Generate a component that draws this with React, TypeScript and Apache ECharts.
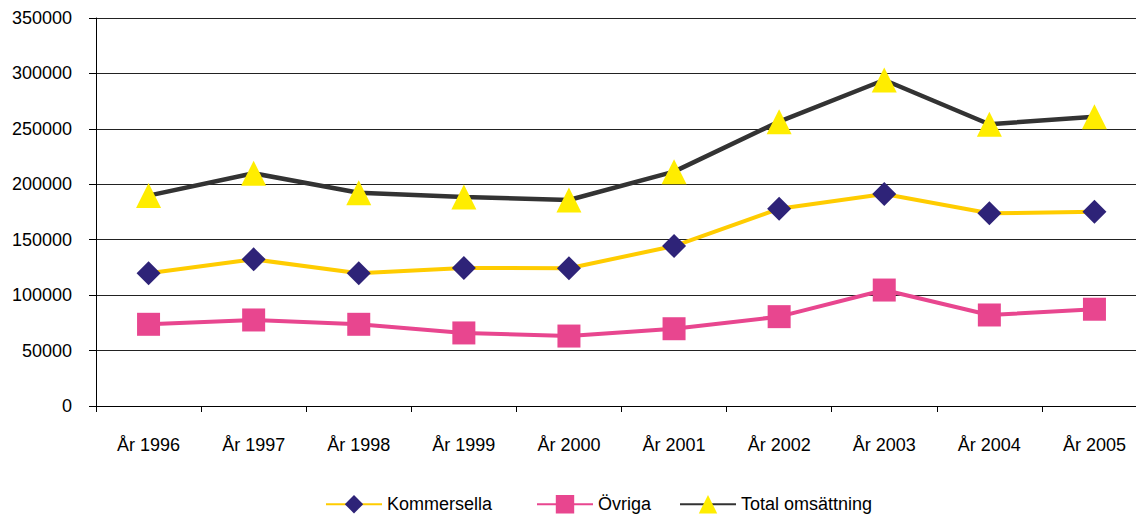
import React, { useEffect, useRef } from "react";
import * as echarts from "echarts";

const categories = ["År 1996", "År 1997", "År 1998", "År 1999", "År 2000", "År 2001", "År 2002", "År 2003", "År 2004", "År 2005"];
const kommersella = [119700, 132300, 119700, 124500, 124300, 144300, 178000, 191200, 173800, 175300];
const ovriga = [73700, 77600, 73700, 65900, 63100, 69700, 80600, 104600, 82100, 87300];
const total = [189800, 209900, 192400, 188500, 185800, 211400, 256500, 294100, 254200, 261000];

const FONT = "'Liberation Sans', Arial, sans-serif";

export default function App() {
  const ref = useRef<HTMLDivElement>(null);
  useEffect(() => {
    if (!ref.current) return;
    const chart = echarts.init(ref.current, null, { renderer: "svg" });
    const legendBase = {
      top: 495,
      itemWidth: 56,
      itemHeight: 23,
      orient: "horizontal",
      padding: 0,
      textStyle: { fontFamily: FONT, fontSize: 18, color: "#000" },
    };
    chart.setOption({
      animation: false,
      textStyle: { fontFamily: FONT },
      grid: { left: 96, top: 18, right: -11, bottom: 112, containLabel: false, outerBoundsMode: "none" },
      legend: [
        { ...legendBase, left: 325, data: ["Kommersella"] },
        { ...legendBase, left: 536, data: ["Övriga"] },
        { ...legendBase, left: 679, data: ["Total omsättning"] },
      ],
      xAxis: {
        type: "category",
        data: categories,
        boundaryGap: true,
        axisLine: { show: true, lineStyle: { color: "#000", width: 1 } },
        axisTick: { show: true, length: 6, lineStyle: { color: "#000" } },
        axisLabel: { color: "#000", fontSize: 18, fontFamily: FONT, margin: 30, interval: 0 },
        splitLine: { show: false },
      },
      yAxis: {
        type: "value",
        min: 0,
        max: 350000,
        interval: 50000,
        axisLine: { show: true, lineStyle: { color: "#000", width: 1 } },
        axisTick: { show: true, length: 7, inside: false, lineStyle: { color: "#000" } },
        axisLabel: { color: "#000", fontSize: 18, fontFamily: FONT, margin: 24, formatter: (v: number) => String(v) },
        splitLine: { show: true, lineStyle: { color: "#222", width: 1 } },
      },
      series: [
        {
          name: "Kommersella",
          type: "line",
          data: kommersella,
          symbol: "diamond",
          symbolSize: 24,
          lineStyle: { color: "#FFCC00", width: 4 },
          itemStyle: { color: "#2E2378" },
        },
        {
          name: "Övriga",
          type: "line",
          data: ovriga,
          symbol: "rect",
          symbolSize: 23,
          lineStyle: { color: "#E8468F", width: 4 },
          itemStyle: { color: "#E8468F" },
        },
        {
          name: "Total omsättning",
          type: "line",
          data: total,
          symbol: "triangle",
          symbolSize: 25,
          lineStyle: { color: "#333333", width: 4.5 },
          itemStyle: { color: "#FFED00" },
        },
      ],
    });
    return () => chart.dispose();
  }, []);
  return (
    <div
      ref={ref}
      style={{ position: "fixed", left: 0, top: 0, width: 1136, height: 518, background: "#fff" }}
    />
  );
}
